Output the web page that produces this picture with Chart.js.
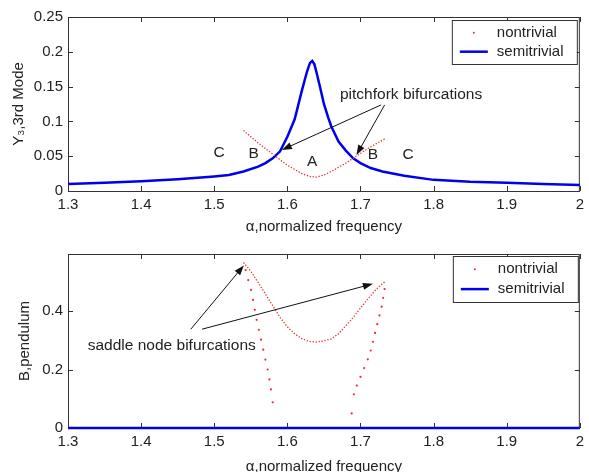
<!DOCTYPE html>
<html>
<head>
<meta charset="utf-8">
<script src="https://cdn.jsdelivr.net/npm/chart.js@4.4.0/dist/chart.umd.min.js"></script>
<style>
  html, body { margin: 0; padding: 0; background: #fff; width: 589px; height: 472px; overflow: hidden; }
  canvas { position: absolute; left: 0; }
  #topChart { top: 0; }
  #bottomChart { top: 236px; }
</style>
</head>
<body>
<canvas id="topChart" width="589" height="236"></canvas>
<canvas id="bottomChart" width="589" height="240"></canvas>
<script>
// values (alpha = normalized frequency)
const xMin = 1.3, xMax = 2.0;

// top plot: Y3, 3rd mode
const semiAlpha = [1.30, 1.35, 1.40, 1.45, 1.50, 1.52, 1.54, 1.56, 1.57, 1.58, 1.59, 1.60, 1.61, 1.62, 1.627, 1.631, 1.634,
  1.637, 1.64, 1.645, 1.65, 1.656, 1.66, 1.67, 1.68, 1.69, 1.70, 1.714, 1.73, 1.76, 1.80, 1.85, 1.90, 1.95, 2.00];
const semiY3 = [0.010, 0.012, 0.014, 0.017, 0.021, 0.023, 0.028, 0.035, 0.040, 0.047, 0.057, 0.078, 0.103, 0.145, 0.172, 0.184, 0.187,
  0.182, 0.170, 0.148, 0.125, 0.105, 0.093, 0.071, 0.058, 0.047, 0.040, 0.033, 0.028, 0.022, 0.016, 0.0134, 0.012, 0.010, 0.0086];

const ntAlpha = [1.54, 1.55, 1.56, 1.57, 1.58, 1.59, 1.60, 1.61, 1.62, 1.63, 1.64, 1.65, 1.66, 1.67, 1.68, 1.69, 1.70, 1.71, 1.72, 1.735];
const ntY3 = [0.087, 0.078, 0.069, 0.061, 0.053, 0.045, 0.037, 0.031, 0.025, 0.021, 0.020, 0.023, 0.028, 0.034, 0.040, 0.047, 0.054, 0.061, 0.067, 0.076];

// bottom plot: B, pendulum
const upAlpha = [1.54, 1.55, 1.56, 1.57, 1.58, 1.59, 1.60, 1.61, 1.62, 1.63, 1.64, 1.65, 1.66, 1.67, 1.68, 1.69, 1.70, 1.71, 1.72, 1.73, 1.735];
const upB = [0.566, 0.536, 0.498, 0.458, 0.418, 0.378, 0.346, 0.322, 0.305, 0.296, 0.294, 0.298, 0.305, 0.322, 0.350, 0.378, 0.410, 0.441, 0.470, 0.494, 0.502];

const leftAlpha = [1.543, 1.5465, 1.5505, 1.553, 1.5555, 1.558, 1.561, 1.564, 1.567, 1.570, 1.573, 1.5755, 1.5775, 1.580];
const leftB = [0.540, 0.506, 0.472, 0.438, 0.404, 0.370, 0.336, 0.302, 0.268, 0.234, 0.200, 0.166, 0.132, 0.088];

const rightAlpha = [1.733, 1.731, 1.729, 1.726, 1.723, 1.720, 1.717, 1.714, 1.710, 1.705, 1.700, 1.695, 1.691, 1.688];
const rightB = [0.475, 0.445, 0.415, 0.385, 0.355, 0.325, 0.295, 0.265, 0.235, 0.205, 0.175, 0.145, 0.115, 0.050];

const semiBAlpha = [1.3, 2.0];
const semiB = [0, 0];

const legendLabels = ['nontrivial', 'semitrivial'];

const FONT = '"Liberation Sans", Arial, sans-serif';
const BLUE = '#0000ee';
const RED = '#ee2b2b';
const INK = '#222';

function pts(xs, ys) {
  return xs.map((x, i) => ({ x: x, y: ys[i] }));
}

function fmt(v) {
  return String(+v.toFixed(3));
}

// frame, inward ticks (matlab style), annotations and legend
const matlabAxes = {
  id: 'matlabAxes',
  beforeDatasetsDraw(chart) {
    const { ctx, chartArea: a, scales: { x, y } } = chart;
    ctx.save();
    ctx.strokeStyle = '#333';
    ctx.lineWidth = 1;
    ctx.strokeRect(a.left + 0.5, a.top + 0.5, a.right - a.left - 1, a.bottom - a.top);
    ctx.beginPath();
    x.ticks.forEach(t => {
      const px = Math.round(x.getPixelForValue(t.value)) + 0.5;
      ctx.moveTo(px, a.bottom); ctx.lineTo(px, a.bottom - 5);
      ctx.moveTo(px, a.top); ctx.lineTo(px, a.top + 5);
    });
    y.ticks.forEach(t => {
      const py = Math.round(y.getPixelForValue(t.value)) + 0.5;
      ctx.moveTo(a.left, py); ctx.lineTo(a.left + 5, py);
      ctx.moveTo(a.right, py); ctx.lineTo(a.right - 5, py);
    });
    ctx.stroke();
    ctx.restore();
  },
  afterDraw(chart, args, opts) {
    const { ctx, chartArea: a, scales: { x, y } } = chart;
    ctx.save();
    ctx.font = '15.5px ' + FONT;
    ctx.fillStyle = INK;
    ctx.textBaseline = 'middle';

    (opts.texts || []).forEach(t => {
      ctx.textAlign = t.align || 'center';
      ctx.fillText(t.text, x.getPixelForValue(t.x), y.getPixelForValue(t.y));
    });

    (opts.arrows || []).forEach(ar => {
      const x1 = x.getPixelForValue(ar[0]), y1 = y.getPixelForValue(ar[1]);
      const x2 = x.getPixelForValue(ar[2]), y2 = y.getPixelForValue(ar[3]);
      const ang = Math.atan2(y2 - y1, x2 - x1);
      ctx.strokeStyle = '#111';
      ctx.lineWidth = 1;
      ctx.beginPath();
      ctx.moveTo(x1, y1);
      ctx.lineTo(x2 - 6 * Math.cos(ang), y2 - 6 * Math.sin(ang));
      ctx.stroke();
      ctx.fillStyle = '#111';
      ctx.beginPath();
      ctx.moveTo(x2, y2);
      ctx.lineTo(x2 - 10 * Math.cos(ang) + 3.5 * Math.sin(ang), y2 - 10 * Math.sin(ang) - 3.5 * Math.cos(ang));
      ctx.lineTo(x2 - 10 * Math.cos(ang) - 3.5 * Math.sin(ang), y2 - 10 * Math.sin(ang) + 3.5 * Math.cos(ang));
      ctx.closePath();
      ctx.fill();
    });

    // legend box in the upper right corner
    const lg = opts.legend;
    if (lg) {
      ctx.font = '15px ' + FONT;
      const bx = a.right - lg.inset - lg.w, by = a.top + lg.inset;
      ctx.fillStyle = '#fff';
      ctx.fillRect(bx, by, lg.w, lg.h);
      ctx.strokeStyle = '#333';
      ctx.lineWidth = 1;
      ctx.strokeRect(bx + 0.5, by + 0.5, lg.w, lg.h);
      const r1 = by + lg.h * 0.29, r2 = by + lg.h * 0.72;
      ctx.fillStyle = RED;
      ctx.beginPath();
      ctx.arc(bx + 22, r1, 1, 0, Math.PI * 2);
      ctx.fill();
      ctx.strokeStyle = BLUE;
      ctx.lineWidth = 2.5;
      ctx.beginPath();
      ctx.moveTo(bx + 8, r2); ctx.lineTo(bx + 36, r2);
      ctx.stroke();
      ctx.fillStyle = INK;
      ctx.textAlign = 'left';
      ctx.fillText(legendLabels[0], bx + 45, r1);
      ctx.fillText(legendLabels[1], bx + 45, r2);
    }
    ctx.restore();
  }
};

function axisX(height) {
  return {
    type: 'linear', min: xMin, max: xMax,
    grid: { display: false, drawTicks: false },
    border: { display: false },
    ticks: { stepSize: 0.1, padding: 5, color: INK, font: { size: 15, family: FONT }, callback: fmt },
    title: { display: true, text: 'α,normalized frequency', color: INK, font: { size: 15, family: FONT }, padding: { top: 0, bottom: 0 } },
    afterFit(s) { s.height = height; }
  };
}

function axisY(min, max, step, title, titlePad) {
  return {
    type: 'linear', min: min, max: max,
    grid: { display: false, drawTicks: false },
    border: { display: false },
    ticks: { stepSize: step, includeBounds: false, padding: 5, color: INK, font: { size: 15, family: FONT }, callback: fmt },
    title: { display: true, text: title, color: INK, font: { size: 15, family: FONT }, padding: { top: titlePad, bottom: 0 } },
    afterFit(s) { s.width = 68; }
  };
}

function dotted(data) {
  return { data: data, showLine: true, borderColor: RED, borderWidth: 1.3, borderDash: [1.3, 1.7], pointRadius: 0, clip: false };
}

function sparse(data) {
  return { data: data, showLine: false, pointRadius: 1.1, pointBorderWidth: 0, pointBackgroundColor: RED, clip: false };
}

function solid(data) {
  return { data: data, showLine: true, borderColor: BLUE, borderWidth: 2.5, pointRadius: 0, clip: false };
}

function baseOptions(pad, xh, yAxis, annot) {
  return {
    responsive: false,
    animation: false,
    layout: { padding: { top: pad, right: 5, left: 0, bottom: 0 } },
    scales: { x: axisX(xh), y: yAxis },
    plugins: { legend: { display: false }, tooltip: { enabled: false }, matlabAxes: annot }
  };
}

new Chart(document.getElementById('topChart'), {
  type: 'scatter',
  data: { datasets: [dotted(pts(ntAlpha, ntY3)), solid(pts(semiAlpha, semiY3))] },
  options: baseOptions(17, 45, axisY(0, 0.25, 0.05, 'Y₃,3rd Mode', 10), {
    texts: [
      { text: 'pitchfork bifurcations', x: 1.672, y: 0.139, align: 'left' },
      { text: 'C', x: 1.5065, y: 0.0546 },
      { text: 'B', x: 1.554, y: 0.053 },
      { text: 'A', x: 1.634, y: 0.0417 },
      { text: 'B', x: 1.717, y: 0.0517 },
      { text: 'C', x: 1.765, y: 0.0517 }
    ],
    arrows: [[1.728, 0.1236, 1.5925, 0.059], [1.733, 0.1236, 1.6945, 0.0517]],
    legend: { w: 125, h: 44, inset: 3 }
  }),
  plugins: [matlabAxes]
});

new Chart(document.getElementById('bottomChart'), {
  type: 'scatter',
  data: {
    datasets: [
      dotted(pts(upAlpha, upB)),
      sparse(pts(leftAlpha, leftB)),
      sparse(pts(rightAlpha, rightB)),
      solid(pts(semiBAlpha, semiB))
    ]
  },
  options: baseOptions(18, 48, axisY(0, 0.595, 0.2, 'B,pendulum', 16), {
    texts: [{ text: 'saddle node bifurcations', x: 1.327, y: 0.28, align: 'left' }],
    arrows: [[1.468, 0.338, 1.5405, 0.556], [1.4834, 0.338, 1.717, 0.493]],
    legend: { w: 125, h: 46, inset: 2 }
  }),
  plugins: [matlabAxes]
});
</script>
</body>
</html>
